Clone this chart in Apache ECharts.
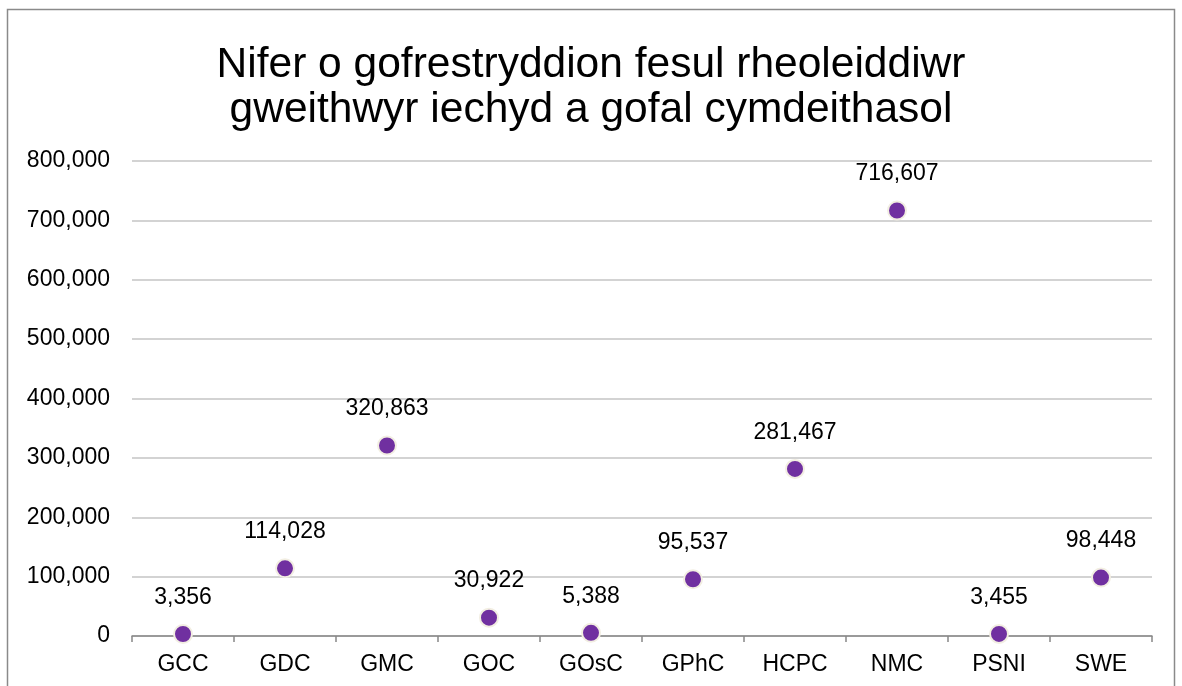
<!DOCTYPE html>
<html><head><meta charset="utf-8">
<script src="https://cdn.jsdelivr.net/npm/echarts@6/dist/echarts.min.js"></script>
<style>html,body{margin:0;padding:0;background:#fff;}#c{width:1182px;height:686px;}</style>
</head><body><div id="c"></div>
<script>
const categories = ['GCC','GDC','GMC','GOC','GOsC','GPhC','HCPC','NMC','PSNI','SWE'];
const values = [3356,114028,320863,30922,5388,95537,281467,716607,3455,98448];
const titleLines = ['Nifer o gofrestryddion fesul rheoleiddiwr','gweithwyr iechyd a gofal cymdeithasol'];

const chart = echarts.init(document.getElementById('c'));
const font = '"Liberation Sans", Arial, sans-serif';
chart.setOption({
  animation: false,
  textStyle: {fontFamily: font},
  graphic: [{type:'rect', shape:{x:7.5,y:9.5,width:1167,height:700}, style:{fill:'none', stroke:'#8a8a8a', lineWidth:1.5}, z:-1}],
  title: {
    text: titleLines.join('\n'), left: 'center', top: 38,
    textStyle: {fontFamily: font, fontSize: 42.5, fontWeight: 'normal', color: '#000', lineHeight: 45}
  },
  grid: {left: 132, right: 30, top: 161, bottom: 50},
  xAxis: {
    type: 'category', data: categories,
    axisLine: {lineStyle: {color: '#888', width: 1.5}},
    axisTick: {show: true, length: 6, alignWithLabel: false, lineStyle: {color: '#888', width: 1.5}},
    axisLabel: {color: '#000', fontSize: 23, margin: 17, fontFamily: font},
    splitLine: {show: false}
  },
  yAxis: {
    type: 'value', min: 0, max: 800000, interval: 100000,
    axisLine: {show: false}, axisTick: {show: false},
    axisLabel: {color: '#000', fontSize: 23, margin: 22, fontFamily: font,
      formatter: v => v.toLocaleString('en-US')},
    splitLine: {lineStyle: {color: '#c4c4c4', width: 1.5}}
  },
  series: [{
    type: 'scatter', data: values, symbolSize: 18,
    itemStyle: {color: '#7030A0', borderColor: '#F2EEE2', borderWidth: 2, opacity: 1},
    label: {show: true, position: 'top', distance: 15, color: '#000', fontSize: 23, fontFamily: font,
      formatter: p => p.value.toLocaleString('en-US')}
  }]
});
</script></body></html>
